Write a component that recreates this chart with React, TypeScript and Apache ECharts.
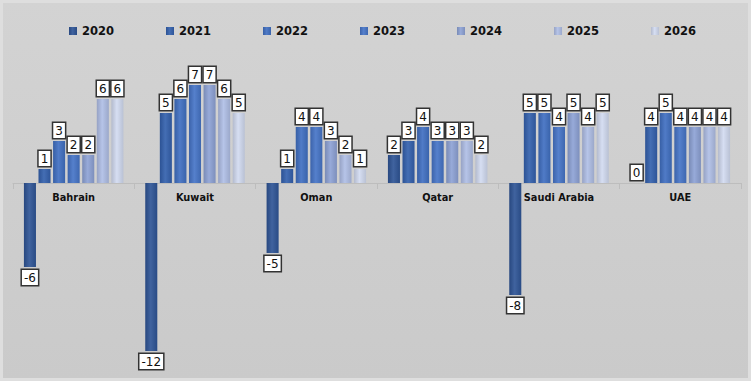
import React, { useEffect, useRef } from "react";
import * as echarts from "echarts";

const categories = ["Bahrain", "Kuwait", "Oman", "Qatar", "Saudi Arabia", "UAE"];
const years = ["2020", "2021", "2022", "2023", "2024", "2025", "2026"];
const v2020 = [-6, -12, -5, 2, -8, 0];
const v2021 = [1, 5, 1, 3, 5, 4];
const v2022 = [3, 6, 4, 4, 5, 5];
const v2023 = [2, 7, 4, 3, 4, 4];
const v2024 = [2, 7, 3, 3, 5, 4];
const v2025 = [6, 6, 2, 3, 4, 4];
const v2026 = [6, 5, 1, 2, 5, 4];
const seriesValues = [v2020, v2021, v2022, v2023, v2024, v2025, v2026];
const colors = ["#2f5597", "#3461ae", "#4170c2", "#4675c8", "#8ea3d6", "#b0bfe6", "#d2dbf1"];

function shade(hex: string, f: number) {
  const n = parseInt(hex.slice(1), 16);
  let r = (n >> 16) & 255, g = (n >> 8) & 255, b = n & 255;
  const m = (c: number) => Math.max(0, Math.min(255, Math.round(f < 0 ? c * (1 + f) : c + (255 - c) * f)));
  return `rgb(${m(r)},${m(g)},${m(b)})`;
}

export default function App() {
  const ref = useRef<HTMLDivElement>(null);
  useEffect(() => {
    const chart = echarts.init(ref.current!, null, { renderer: "svg" });
    const font = "'DejaVu Sans', Verdana, sans-serif";
    const series = years.map((y, i) => ({
      name: y,
      type: "bar",
      barGap: "21%",
      barCategoryGap: "18%",
      itemStyle: {
        color: new echarts.graphic.LinearGradient(0, 0, 1, 0, [
          { offset: 0, color: shade(colors[i], -0.15) },
          { offset: 0.45, color: shade(colors[i], 0.08) },
          { offset: 1, color: shade(colors[i], -0.12) },
        ]),
      },
      data: seriesValues[i].map((v) => ({
        value: v,
        label: { position: v < 0 ? "bottom" : "top" },
      })),
      label: {
        show: true,
        distance: 3,
        color: "#111",
        fontFamily: font,
        fontSize: 12,
        lineHeight: 12,
        backgroundColor: "#ffffff",
        borderColor: "#333333",
        borderWidth: 1.5,
        padding: [2, 2, 1, 2],
      },
    }));
    chart.setOption({
      animation: false,
      backgroundColor: "#ffffff",
      graphic: [
        {
          type: "rect",
          z: -10,
          silent: true,
          shape: { x: 1.5, y: 1.5, width: 748, height: 378 },
          style: {
            fill: new echarts.graphic.LinearGradient(0, 0, 0, 1, [
              { offset: 0, color: "#d3d3d3" },
              { offset: 1, color: "#cacaca" },
            ]),
            stroke: "#dedede",
            lineWidth: 3,
          },
        },
      ],
      legend: {
        data: years,
        left: 64,
        top: 20,
        itemWidth: 8,
        itemHeight: 8,
        itemGap: 52,
        icon: "rect",
        textStyle: { fontFamily: font, fontWeight: "bold", fontSize: 11.5, color: "#111" },
      },
      grid: { left: 13, right: 12, top: 71, height: 294 },
      xAxis: {
        type: "category",
        data: categories,
        offset: -182,
        axisLine: { onZero: false, lineStyle: { color: "#bdbdbd", width: 1 } },
        axisTick: { show: true, length: 6, lineStyle: { color: "#bdbdbd" } },
        axisLabel: {
          fontFamily: font,
          fontWeight: "bold",
          fontSize: 9.8,
          color: "#111",
          margin: 9,
        },
      },
      yAxis: {
        type: "value",
        min: -13,
        max: 8,
        show: false,
        splitLine: { show: false },
      },
      series,
    });
    return () => chart.dispose();
  }, []);
  return <div ref={ref} style={{ position: "absolute", left: 0, top: 0, width: 753, height: 383 }} />;
}
